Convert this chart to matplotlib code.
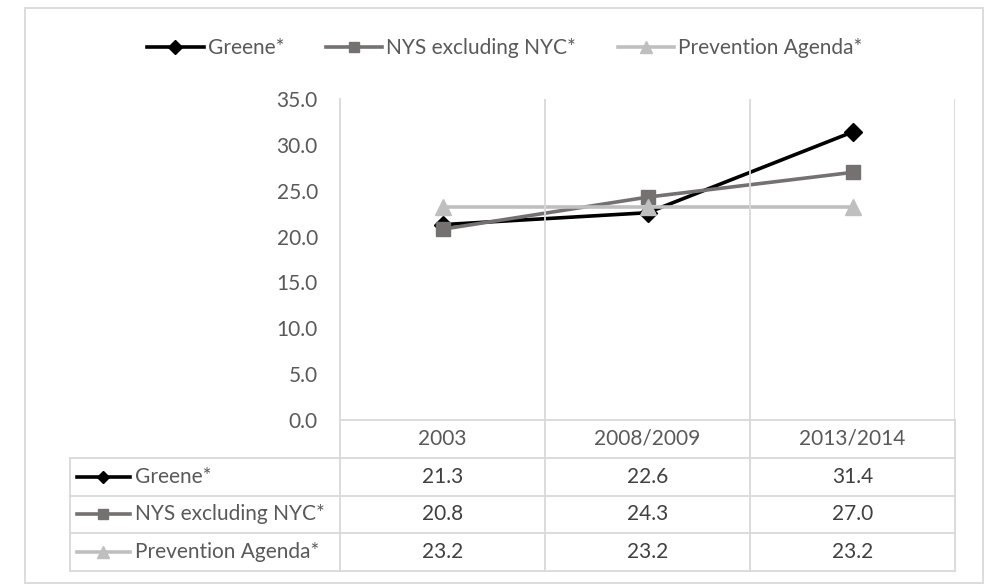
import matplotlib.pyplot as plt
from matplotlib.patches import Rectangle

categories = ["2003", "2008/2009", "2013/2014"]
greene = [21.3, 22.6, 31.4]
nys = [20.8, 24.3, 27.0]
prevention = [23.2, 23.2, 23.2]
series_names = ["Greene*", "NYS excluding NYC*", "Prevention Agenda*"]
yticks = [0, 5, 10, 15, 20, 25, 30, 35]

plt.rcParams['font.family'] = ['Lato', 'DejaVu Sans']

W, H = 994, 584
fig = plt.figure(figsize=(W / 100, H / 100), dpi=100)


def px(x0, y0, x1, y1):
    # pixel box -> figure fraction rect
    return [x0 / W, 1 - y1 / H, (x1 - x0) / W, (y1 - y0) / H]


grid = '#d9d9d9'
text_col = '#595959'
styles = [
    dict(color='black', marker='D', ms=9),
    dict(color='#767171', marker='s', ms=10),
    dict(color='#bfbfbf', marker='^', ms=11),
]
all_series = [greene, nys, prevention]

# chart area
ax = fig.add_axes(px(340, 99, 955, 420))
x = list(range(len(categories)))
for vals, name, st in zip(all_series, series_names, styles):
    ax.plot(x, vals, lw=2.6, label=name, clip_on=False, **st)
ax.set_xlim(-0.5, 2.5)
ax.set_ylim(0, 35)
ax.set_yticks(yticks)
ax.set_yticklabels([f"{v:.1f}" for v in yticks])
ax.set_xticks([])
for s in ['top', 'right']:
    ax.spines[s].set_visible(False)
for s in ['left', 'bottom']:
    ax.spines[s].set_color(grid)
    ax.spines[s].set_linewidth(1.3)
for b in [0.5, 1.5, 2.5]:
    ax.axvline(b, color=grid, lw=1.3)
ax.tick_params(axis='y', length=0, pad=16, labelsize=15, labelcolor=text_col)

# data table under the chart
unit = (955 - 340) / 3.0
x_left = -0.5 - (340 - 70) / unit
tb = fig.add_axes(px(70, 420, 955, 571))
tb.set_xlim(x_left, 2.5)
tb.set_ylim(4, 0)
tb.axis('off')


def ux(p):
    return x_left + (p - 70) / unit


for i, c in enumerate(categories):
    tb.text(i, 0.5, c, ha='center', va='center', fontsize=15, color=text_col)
for r in [1, 2, 3, 4]:
    tb.plot([x_left, 2.5], [r, r], color=grid, lw=1.3, clip_on=False)
for b in [-0.5, 0.5, 1.5, 2.5]:
    tb.plot([b, b], [0, 4], color=grid, lw=1.3, clip_on=False)
tb.plot([x_left, x_left], [1, 4], color=grid, lw=1.3, clip_on=False)

for r, (vals, name, st) in enumerate(zip(all_series, series_names, styles)):
    yc = r + 1.5
    tb.plot([ux(77), ux(130)], [yc, yc], color=st['color'], lw=2.6, clip_on=False)
    tb.plot([ux(103.5)], [yc], color=st['color'], marker=st['marker'],
            ms=st['ms'] - 2.5, clip_on=False)
    tb.text(ux(135), yc, name, ha='left', va='center', fontsize=15, color=text_col)
    for i, v in enumerate(vals):
        tb.text(i, yc, f"{v:.1f}", ha='center', va='center', fontsize=15, color='#404040')

fig.legend(loc='center', bbox_to_anchor=(505 / W, 1 - 48 / H), ncol=3, frameon=False,
           fontsize=15, handlelength=2.7, handletextpad=0.2, columnspacing=2.0,
           markerscale=0.75, labelcolor=text_col)

fig.add_artist(Rectangle((25 / W, 1 - 583 / H), (983 - 25) / W, (583 - 8) / H,
                         transform=fig.transFigure, fill=False, ec=grid, lw=1.3))

fig.savefig('out.png', dpi=100)
